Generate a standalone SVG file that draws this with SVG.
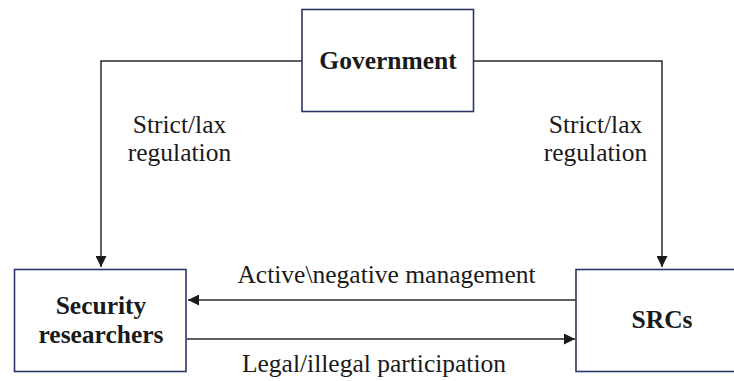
<svg xmlns="http://www.w3.org/2000/svg" width="734" height="381" viewBox="0 0 734 381">
<style>
.box{fill:#fff;stroke:#2b3566;stroke-width:1.6}
.ln{fill:none;stroke:#2a2a2a;stroke-width:1.5}
.t{font-family:"Liberation Serif","Times New Roman",serif;font-size:25.5px;fill:#1a1a1a;text-anchor:middle}
.b{font-weight:bold}
</style>
<defs>
<marker id="ah" markerUnits="userSpaceOnUse" markerWidth="11" markerHeight="11" refX="10" refY="5" orient="auto" viewBox="0 0 10 10">
<path d="M0,0 L10,5 L0,10 z" fill="#1a1a1a"/>
</marker>
</defs>
<rect width="734" height="381" fill="#fff"/>
<g id="connectors">
<polyline class="ln" points="302,61 101,61 101,267" marker-end="url(#ah)"/>
<polyline class="ln" points="474,61 662,61 662,267" marker-end="url(#ah)"/>
<line class="ln" x1="576" y1="300" x2="188" y2="300" marker-end="url(#ah)"/>
<line class="ln" x1="187" y1="339" x2="575" y2="339" marker-end="url(#ah)"/>
<text class="t" x="179.5" y="133">Strict/lax</text>
<text class="t" x="179.5" y="161">regulation</text>
<text class="t" x="595.5" y="133">Strict/lax</text>
<text class="t" x="595.5" y="161">regulation</text>
<text class="t" x="386.5" y="283">Active\negative management</text>
<text class="t" x="374" y="372">Legal/illegal participation</text>
</g>
<g id="government">
<rect class="box" x="302" y="9.5" width="171.5" height="102"/>
<text class="t b" x="388" y="69">Government</text>
</g>
<g id="security-researchers">
<rect class="box" x="14.5" y="269.5" width="171.5" height="102"/>
<text class="t b" x="101" y="314">Security</text>
<text class="t b" x="101" y="343">researchers</text>
</g>
<g id="srcs">
<rect class="box" x="576" y="269.5" width="162" height="102"/>
<text class="t b" x="662" y="328">SRCs</text>
</g>
</svg>
